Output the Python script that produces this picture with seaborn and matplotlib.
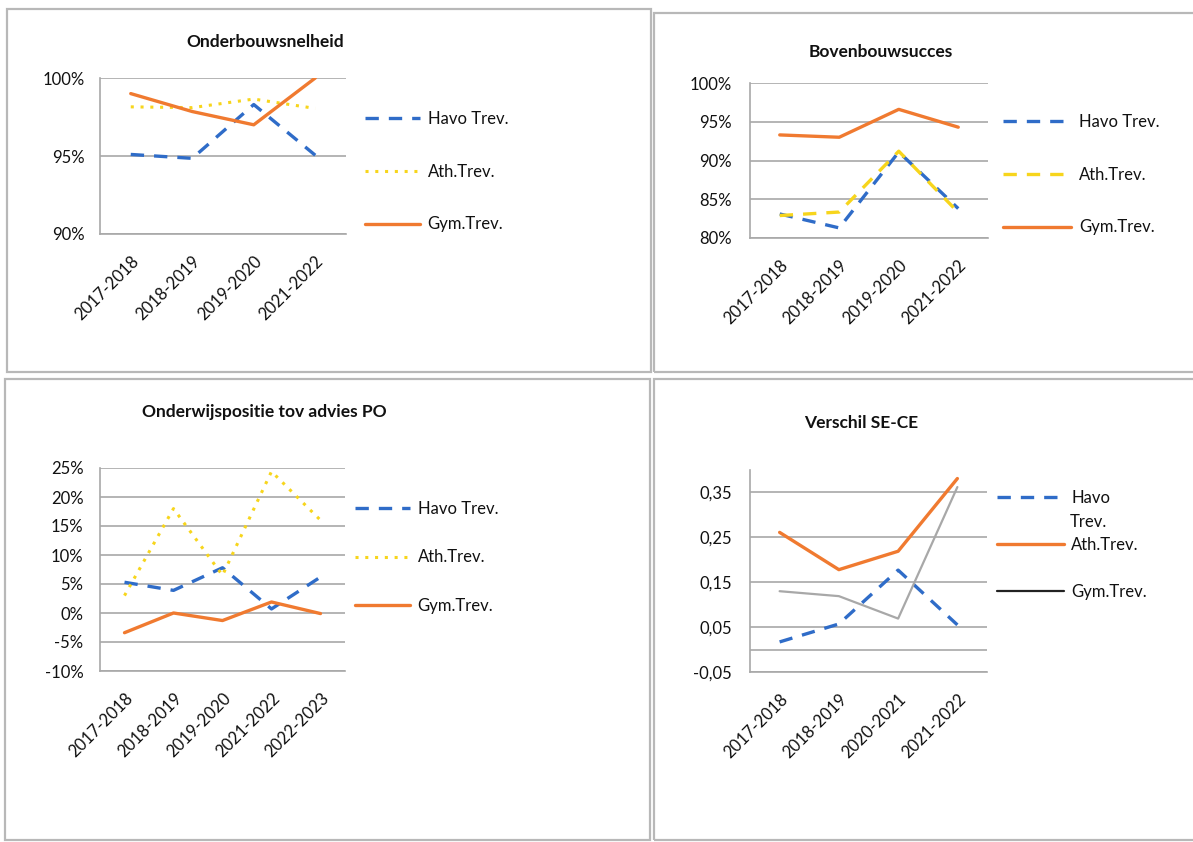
import matplotlib
matplotlib.use("Agg")
import matplotlib.pyplot as plt
from matplotlib.patches import Rectangle
from matplotlib.ticker import FuncFormatter, MultipleLocator, FixedLocator
import seaborn as sns

jaren_ob = ['2017-2018', '2018-2019', '2019-2020', '2021-2022']
jaren_po = ['2017-2018', '2018-2019', '2019-2020', '2021-2022', '2022-2023']
jaren_se = ['2017-2018', '2018-2019', '2020-2021', '2021-2022']

# Onderbouwsnelheid (%)
ob_havo = [95.1, 94.85, 98.3, 95.05]
ob_ath = [98.15, 98.1, 98.65, 98.05]
ob_gym = [99.0, 97.85, 97.0, 100.0]

# Bovenbouwsucces (%)
bb_havo = [83.1, 81.3, 91.1, 83.8]
bb_ath = [82.9, 83.35, 91.2, 83.3]
bb_gym = [93.3, 93.0, 96.6, 94.3]

# Onderwijspositie tov advies PO (%)
po_havo = [5.3, 3.9, 7.8, 0.7, 6.2]
po_ath = [3.0, 18.0, 6.5, 24.4, 16.0]
po_gym = [-3.4, 0.0, -1.3, 1.9, -0.1]

# Verschil SE-CE
se_havo = [0.017, 0.057, 0.177, 0.055]
se_ath = [0.261, 0.178, 0.219, 0.381]
se_gym = [0.130, 0.119, 0.069, 0.362]

namen = ['Havo Trev.', 'Ath.Trev.', 'Gym.Trev.']

### ------------------- stijl ----------------------
sns.set_theme(style="white")
plt.rcParams['font.family'] = ['Lato', 'DejaVu Sans']

BLAUW = '#2f6cc8'
GEEL = '#f7d51c'
ORANJE = '#f07a30'
GRIJS = '#a8a8a8'
RAND = '#b8b8b8'
TEKST = '#111111'

W, H = 1193, 842
fig = plt.figure(figsize=(W / 100, H / 100), dpi=100)


def px_as(left, top, right, bottom):
    return fig.add_axes([left / W, 1 - bottom / H, (right - left) / W, (bottom - top) / H])


def kader(x0, y0, x1, y1):
    fig.add_artist(Rectangle((x0 / W, 1 - y1 / H), (x1 - x0) / W, (y1 - y0) / H,
                             transform=fig.transFigure, fill=False, ec=RAND, lw=1.6))


def opmaak(ax, n, ypad):
    ax.set_xlim(-0.5, n - 0.5)
    ax.grid(axis='y', color=GRIJS, lw=1.2)
    ax.grid(axis='x', visible=False)
    ax.set_axisbelow(True)
    for s in ['top', 'right']:
        ax.spines[s].set_visible(False)
    for s in ['left', 'bottom']:
        ax.spines[s].set_color(GRIJS)
        ax.spines[s].set_linewidth(1.2)
    ax.tick_params(axis='both', length=0, labelsize=12, colors=TEKST)
    ax.tick_params(axis='y', pad=ypad)
    ax.tick_params(axis='x', pad=14)
    ax.set_xticks(range(n))
    plt.setp(ax.get_xticklabels(), rotation=45, ha='right', rotation_mode='anchor')
    ax.set_xlabel('')
    ax.set_ylabel('')


def legenda(ax, x, y, hlen, spacing, labels=None):
    handles, labs = ax.get_legend_handles_labels()
    if ax.get_legend() is not None:
        ax.get_legend().remove()
    return fig.legend(handles, labels or labs, loc='upper left', bbox_to_anchor=(x / W, 1 - y / H),
                      frameon=False, fontsize=12, handlelength=hlen, labelspacing=spacing,
                      handletextpad=0.45, borderpad=0, borderaxespad=0, labelcolor=TEKST)


def titel(x, y, s):
    fig.text(x / W, 1 - y / H, s, ha='center', va='center',
             fontsize=12.5, fontweight='bold', color=TEKST)


pct = FuncFormatter(lambda v, p: f"{v:.0f}%")
komma = FuncFormatter(lambda v, p: f"{v:.2f}".replace('.', ','))

dash = (0, (4, 3))
dot = (0, (1, 2.2))

### ------------------- 1. Onderbouwsnelheid ----------------------
kader(7, 9, 651, 372)
ax1 = px_as(100, 78, 346, 234)
sns.lineplot(x=jaren_ob, y=ob_havo, ax=ax1, color=BLAUW, lw=2.4, linestyle=dash, label=namen[0], sort=False)
sns.lineplot(x=jaren_ob, y=ob_ath, ax=ax1, color=GEEL, lw=2.2, linestyle=dot, label=namen[1], sort=False)
sns.lineplot(x=jaren_ob, y=ob_gym, ax=ax1, color=ORANJE, lw=2.4, label=namen[2], sort=False)
ax1.set_ylim(90, 100)
ax1.yaxis.set_major_locator(MultipleLocator(5))
ax1.yaxis.set_major_formatter(pct)
opmaak(ax1, len(jaren_ob), 11)
legenda(ax1, 365, 111, 3.3, 2.2)
titel(265, 42, 'Onderbouwsnelheid')

### ------------------- 2. Bovenbouwsucces ----------------------
kader(654, 13, 1200, 372)
ax2 = px_as(750, 83, 988, 238)
sns.lineplot(x=jaren_ob, y=bb_havo, ax=ax2, color=BLAUW, lw=2.4, linestyle=dash, label=namen[0], sort=False)
sns.lineplot(x=jaren_ob, y=bb_ath, ax=ax2, color=GEEL, lw=2.4, linestyle=dash, label=namen[1], sort=False)
sns.lineplot(x=jaren_ob, y=bb_gym, ax=ax2, color=ORANJE, lw=2.4, label=namen[2], sort=False)
ax2.set_ylim(80, 100)
ax2.yaxis.set_major_locator(MultipleLocator(5))
ax2.yaxis.set_major_formatter(pct)
opmaak(ax2, len(jaren_ob), 13)
legenda(ax2, 1003, 114, 4.1, 2.2)
titel(881, 52, 'Bovenbouwsucces')

### ------------------- 3. Onderwijspositie tov advies PO ----------------------
kader(5, 379, 650, 840)
ax3 = px_as(100, 468, 345, 671)
sns.lineplot(x=jaren_po, y=po_havo, ax=ax3, color=BLAUW, lw=2.4, linestyle=dash, label=namen[0], sort=False)
sns.lineplot(x=jaren_po, y=po_ath, ax=ax3, color=GEEL, lw=2.2, linestyle=dot, label=namen[1], sort=False)
sns.lineplot(x=jaren_po, y=po_gym, ax=ax3, color=ORANJE, lw=2.4, label=namen[2], sort=False)
ax3.set_ylim(-10, 25)
ax3.yaxis.set_major_locator(MultipleLocator(5))
ax3.yaxis.set_major_formatter(pct)
opmaak(ax3, len(jaren_po), 12)
legenda(ax3, 355, 501, 3.3, 1.95)
titel(264, 412, 'Onderwijspositie tov advies PO')

### ------------------- 4. Verschil SE-CE ----------------------
kader(654, 379, 1200, 840)
ax4 = px_as(750, 470, 987, 672)
sns.lineplot(x=jaren_se, y=se_havo, ax=ax4, color=BLAUW, lw=2.4, linestyle=dash, label=namen[0], sort=False)
sns.lineplot(x=jaren_se, y=se_ath, ax=ax4, color=ORANJE, lw=2.4, label=namen[1], sort=False)
sns.lineplot(x=jaren_se, y=se_gym, ax=ax4, color=GRIJS, lw=1.6, label=namen[2], sort=False)
ax4.set_ylim(-0.05, 0.40)
ax4.yaxis.set_major_locator(FixedLocator([-0.05, 0.05, 0.15, 0.25, 0.35]))
ax4.yaxis.set_major_formatter(komma)
ax4.axhline(0, color=GRIJS, lw=1.2, zorder=0.5)
opmaak(ax4, len(jaren_se), 13)
leg4 = legenda(ax4, 997, 490, 4.0, 1.85, labels=['Havo', 'Ath.Trev.', 'Gym.Trev.'])
leg4.legend_handles[2].set_color('#222222')
fig.text(1070 / W, 1 - 522 / H, 'Trev.', ha='left', va='center', fontsize=12, color=TEKST)
titel(861, 423, 'Verschil SE-CE')

fig.savefig('out.png', dpi=100)
